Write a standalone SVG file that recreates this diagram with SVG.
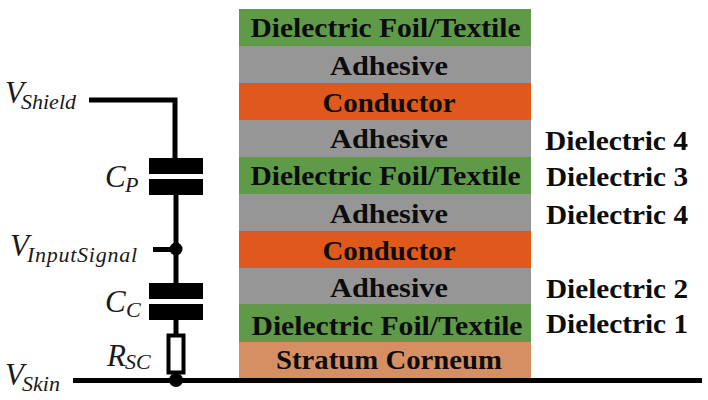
<svg xmlns="http://www.w3.org/2000/svg" width="708" height="400" viewBox="0 0 708 400">
<style>
.l{font:bold 28px "Liberation Serif","DejaVu Serif",serif;fill:#0c0c0c;text-anchor:middle}
.d{font:bold 28px "Liberation Serif","DejaVu Serif",serif;fill:#0c0c0c}
.m{font:italic 31px "Liberation Serif",serif;fill:#1a1a1a}
.s{font:italic 22px "Liberation Serif",serif;fill:#1a1a1a}
.g{fill:#5f9a48}.a{fill:#969696}.c{fill:#e0591c}.k{fill:#d68f62}
.w{fill:none;stroke:#000;stroke-width:5}
</style>
<g id="layers">
<g id="layer-foil-top"><rect class="g" x="239" y="9" width="292" height="37"/><text class="l" x="385.500" y="37" textLength="270" lengthAdjust="spacingAndGlyphs">Dielectric Foil/Textile</text></g>
<g id="layer-adhesive-1"><rect class="a" x="239" y="46" width="292" height="37"/><text class="l" x="389" y="75" textLength="118" lengthAdjust="spacingAndGlyphs">Adhesive</text></g>
<g id="layer-conductor-1"><rect class="c" x="239" y="83" width="292" height="37"/><text class="l" x="389" y="112" textLength="133" lengthAdjust="spacingAndGlyphs">Conductor</text></g>
<g id="layer-adhesive-2"><rect class="a" x="239" y="120" width="292" height="37"/><text class="l" x="389" y="148" textLength="118" lengthAdjust="spacingAndGlyphs">Adhesive</text></g>
<g id="layer-foil-mid"><rect class="g" x="239" y="157" width="292" height="37"/><text class="l" x="385.500" y="185" textLength="270" lengthAdjust="spacingAndGlyphs">Dielectric Foil/Textile</text></g>
<g id="layer-adhesive-3"><rect class="a" x="239" y="194" width="292" height="37"/><text class="l" x="389" y="223" textLength="118" lengthAdjust="spacingAndGlyphs">Adhesive</text></g>
<g id="layer-conductor-2"><rect class="c" x="239" y="231" width="292" height="37"/><text class="l" x="389" y="260" textLength="133" lengthAdjust="spacingAndGlyphs">Conductor</text></g>
<g id="layer-adhesive-4"><rect class="a" x="239" y="268" width="292" height="36"/><text class="l" x="389" y="297" textLength="118" lengthAdjust="spacingAndGlyphs">Adhesive</text></g>
<g id="layer-foil-bottom"><rect class="g" x="239" y="304" width="292" height="38"/><text class="l" x="387" y="335" textLength="271" lengthAdjust="spacingAndGlyphs">Dielectric Foil/Textile</text></g>
<g id="layer-stratum"><rect class="k" x="239" y="342" width="292" height="37"/><text class="l" x="389" y="369" textLength="226" lengthAdjust="spacingAndGlyphs">Stratum Corneum</text></g>
</g>
<g id="dielectric-labels">
<text class="d" x="545" y="150" textLength="143" lengthAdjust="spacingAndGlyphs">Dielectric 4</text>
<text class="d" x="546" y="186" textLength="142" lengthAdjust="spacingAndGlyphs">Dielectric 3</text>
<text class="d" x="546" y="224" textLength="142" lengthAdjust="spacingAndGlyphs">Dielectric 4</text>
<text class="d" x="546" y="298" textLength="142" lengthAdjust="spacingAndGlyphs">Dielectric 2</text>
<text class="d" x="546" y="333" textLength="142" lengthAdjust="spacingAndGlyphs">Dielectric 1</text>
</g>
<g id="connectors">
<path class="w" d="M89 100H175V158"/>
<path class="w" d="M176 195V283M153 249.500H176M176 320V334"/>
<path class="w" d="M73 380.500H702"/>
</g>
<g id="cp"><rect x="149" y="158" width="54" height="16"/><rect x="149" y="179" width="54" height="16"/><text class="m" x="105" y="187">C<tspan class="s" x="125" y="192">P</tspan></text></g>
<g id="cc"><rect x="149" y="283" width="54" height="16"/><rect x="149" y="304" width="54" height="16"/><text class="m" x="105" y="312">C<tspan class="s" x="126" y="317">C</tspan></text></g>
<g id="rsc"><rect x="168.500" y="335.500" width="15" height="37" fill="#fff" stroke="#000" stroke-width="4"/><text class="m" x="107" y="366">R<tspan class="s" x="125" y="369">SC</tspan></text></g>
<g id="dot-input"><circle cx="176" cy="249" r="6.500"/></g>
<g id="dot-skin"><circle cx="176" cy="380" r="7"/></g>
<g id="v-shield"><text class="m" x="5" y="103">V<tspan class="s" x="21" y="109" textLength="55" lengthAdjust="spacing">Shield</tspan></text></g>
<g id="v-input"><text class="m" x="10" y="256">V<tspan class="s" x="27" y="262" textLength="110" lengthAdjust="spacing">InputSignal</tspan></text></g>
<g id="v-skin"><text class="m" x="5" y="385">V<tspan class="s" x="22" y="391" textLength="38" lengthAdjust="spacing">Skin</tspan></text></g>
</svg>
